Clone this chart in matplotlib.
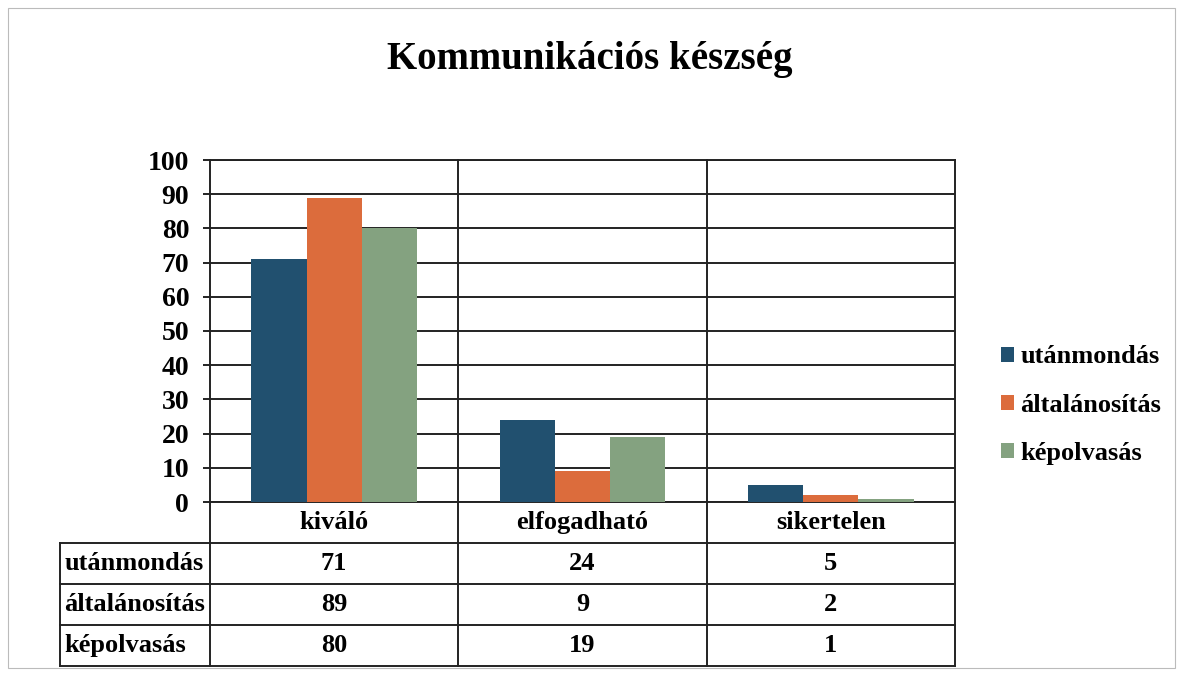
import matplotlib
matplotlib.use("Agg")
import matplotlib.pyplot as plt
import matplotlib.transforms as mtransforms
from matplotlib.lines import Line2D
from matplotlib.patches import Patch
import numpy as np

categories = ["kiváló", "elfogadható", "sikertelen"]
series = ["utánmondás", "általánosítás", "képolvasás"]
utanmondas = [71, 24, 5]
altalanositas = [89, 9, 2]
kepolvasas = [80, 19, 1]
values = [utanmondas, altalanositas, kepolvasas]
colors = ["#21506f", "#dc6c3c", "#84a280"]
yticks = list(range(0, 101, 10))

plt.rcParams['font.family'] = ['Liberation Serif', 'DejaVu Serif']
plt.rcParams['font.weight'] = 'bold'

fig = plt.figure(figsize=(11.8, 6.74), dpi=100)
ax = fig.add_axes([210/1180, 1-502/674, 745/1180, 342/674])

n = len(categories)
x = np.arange(n)
w = 0.222
for i, (vals, c) in enumerate(zip(values, colors)):
    ax.bar(x + (i - 1) * w, vals, width=w, color=c, edgecolor='none', zorder=3)

ax.set_xlim(-0.5, n - 0.5)
ax.set_ylim(0, 100)
ax.set_yticks(yticks)
ax.set_yticklabels([str(t) for t in yticks], fontsize=20, fontweight='bold')
ax.set_xticks([])
ax.tick_params(axis='y', length=5, width=1.4, color='#222222', direction='out', pad=10)
for t in yticks:
    ax.axhline(t, color='#222222', lw=1.4, zorder=1)
for s in ax.spines.values():
    s.set_color('#222222')
    s.set_linewidth(1.4)

# data table below the plot
trans = mtransforms.blended_transform_factory(ax.transData, ax.transAxes)
rh = 41 / 342
left_col = -150 / 745
lkw = dict(color='#222222', lw=1.4, clip_on=False, zorder=4)

# vertical category separators through plot and table
for b in np.arange(0.5, n - 0.5, 1):
    ax.add_line(Line2D([b, b], [1, -rh * 4], transform=trans, **lkw))
ax.add_line(Line2D([-0.5, -0.5], [0, -rh * 4], transform=trans, **lkw))
ax.add_line(Line2D([n - 0.5, n - 0.5], [0, -rh * 4], transform=trans, **lkw))
ax.add_line(Line2D([left_col, left_col], [-rh, -rh * 4], transform=ax.transAxes, **lkw))
for r in range(1, 5):
    ax.add_line(Line2D([left_col, 1], [-rh * r, -rh * r], transform=ax.transAxes, **lkw))

for j, cat in enumerate(categories):
    ax.text(j, -rh * 0.5, cat, transform=trans, ha='center', va='center',
            fontsize=19, fontweight='bold')
for i, (name, vals) in enumerate(zip(series, values)):
    yc = -rh * (i + 1.5)
    ax.text(left_col + 0.006, yc, name, transform=ax.transAxes, ha='left',
            va='center', fontsize=19, fontweight='bold')
    for j, v in enumerate(vals):
        ax.text(j, yc, str(v), transform=trans, ha='center', va='center',
                fontsize=19, fontweight='bold')

handles = [Patch(facecolor=c, edgecolor='none') for c in colors]
fig.legend(handles, series, loc='center left', bbox_to_anchor=(990/1180, 1-405/674),
           frameon=False, handlelength=0.5, handleheight=0.5,
           handletextpad=0.25, labelspacing=0.95, borderaxespad=0,
           prop={'weight': 'bold', 'size': 19})

fig.text(0.5, 1-60/674, "Kommunikációs készség", ha='center', va='center',
         fontsize=28, fontweight='bold')

fig.add_artist(plt.Rectangle((8/1180, 1-668/674), 1167/1180, 660/674,
                             transform=fig.transFigure, fill=False,
                             edgecolor='#bbbbbb', lw=0.8))

fig.savefig("out.png", dpi=100, facecolor='white')
